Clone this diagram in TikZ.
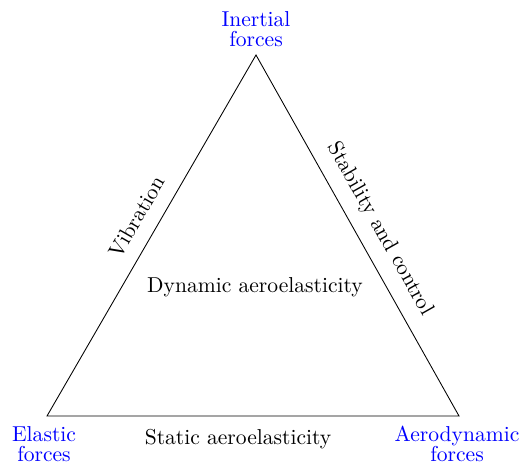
\documentclass[tikz,border=0pt]{standalone}
\usepackage{tikz}
\usetikzlibrary{calc}
\tikzset{>=latex}
\tikzset{
  force/.style={text=blue, align=center, inner sep=1pt, font=\normalsize},
  edgelabel/.style={inner sep=1pt, font=\normalsize}
}
\begin{document}
\begin{tikzpicture}[x=0.0163cm, y=-0.0163cm]
                \useasboundingbox (0,0) rectangle (524,465);
                \coordinate (inertial) at (256,55);
                \coordinate (elastic) at (47,416);
                \coordinate (aero) at (459,416);

                \draw (inertial) -- (elastic) -- (aero) -- cycle;

                \node[force] (inertialtxt) at (256,29) {Inertial\\[-3pt]forces};
                \node[force] (elastictxt) at (44,444) {Elastic\\[-3pt]forces};
                \node[force] (aerotxt) at (457,444) {Aerodynamic\\[-3pt]forces};

                \node[edgelabel, rotate=60] (vib) at (137,217) {Vibration};
                \node[edgelabel, rotate=-60.6] (stab) at (380,229) {Stability and control};
                \node[edgelabel] (static) at (238,439) {Static aeroelasticity};
                \node[edgelabel] (dynamic) at (255,287) {Dynamic aeroelasticity};
              \end{tikzpicture}
\end{document}
